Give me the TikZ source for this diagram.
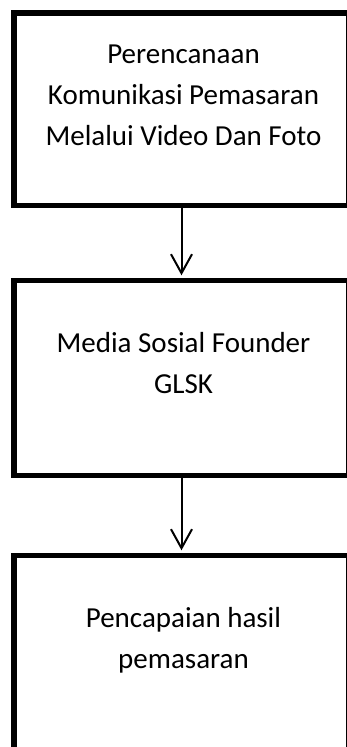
\documentclass[tikz,border=0pt]{standalone}
\usepackage{fontspec}
\setmainfont{Carlito}
\usetikzlibrary{arrows.meta}
\tikzset{
  flowbox/.style={draw=black, line width=5.5pt, rectangle, inner sep=0pt, fill=none},
  boxtext/.style={align=center, inner sep=0pt, anchor=base, font=\fontsize{29}{41}\selectfont},
  flowarrow/.style={draw=black, line width=2pt, -{Straight Barb[length=19pt, width=21pt, line width=2pt]}, shorten >=2.5pt}
}
\begin{document}
\begin{tikzpicture}[x=1pt, y=-1pt]
\useasboundingbox (0,0) rectangle (347,747);
\clip (0,0) rectangle (347,747);
\node[flowbox, minimum width=335pt, minimum height=192.5pt] (b1) at (181.5,109.25) {};
\node[flowbox, minimum width=335pt, minimum height=195pt] (b2) at (181.5,378) {};
\node[flowbox, minimum width=335pt, minimum height=220pt] (b3) at (181.5,665.5) {};
\node[boxtext] (t1) at (183.5,145) {Perencanaan\\Komunikasi Pemasaran\\Melalui Video Dan Foto};
\node[boxtext] (t2) at (183.5,393) {Media Sosial Founder\\GLSK};
\node[boxtext] (t3) at (183.5,668) {Pencapaian hasil\\pemasaran};
\draw[flowarrow] (b1.south) -- (b2.north);
\draw[flowarrow] (b2.south) -- (b3.north);
\end{tikzpicture}
\end{document}
